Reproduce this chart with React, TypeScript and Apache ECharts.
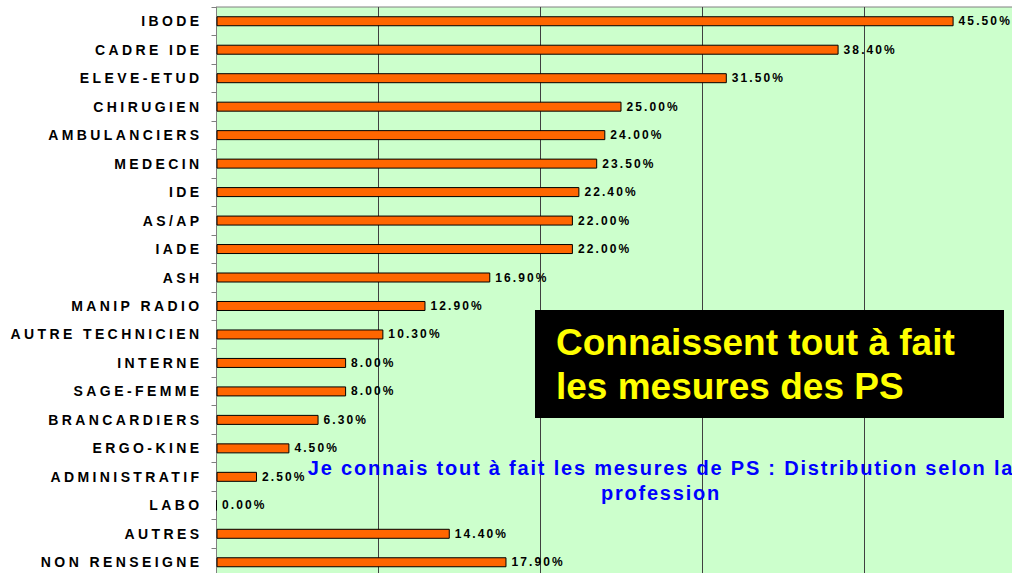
import React, { useEffect, useRef } from "react";
import * as echarts from "echarts";

const categories = [
  "IBODE",
  "CADRE IDE",
  "ELEVE-ETUD",
  "CHIRUGIEN",
  "AMBULANCIERS",
  "MEDECIN",
  "IDE",
  "AS/AP",
  "IADE",
  "ASH",
  "MANIP RADIO",
  "AUTRE TECHNICIEN",
  "INTERNE",
  "SAGE-FEMME",
  "BRANCARDIERS",
  "ERGO-KINE",
  "ADMINISTRATIF",
  "LABO",
  "AUTRES",
  "NON RENSEIGNE",
];

const values = [
  45.5, 38.4, 31.5, 25.0, 24.0, 23.5, 22.4, 22.0, 22.0, 16.9, 12.9, 10.3, 8.0,
  8.0, 6.3, 4.5, 2.5, 0.0, 14.4, 17.9,
];

const boxTitle = "Connaissent tout à fait\nles mesures des PS";
const chartTitle =
  "Je connais tout à fait les mesures de PS : Distribution selon la\nprofession";

const FONT = "'Liberation Sans', Arial, sans-serif";

export default function App() {
  const ref = useRef<HTMLDivElement>(null);

  useEffect(() => {
    document.body.style.margin = "0";
    document.body.style.overflow = "hidden";
    document.documentElement.style.overflow = "hidden";
    const chart = echarts.init(ref.current!, null, { renderer: "svg" });
    chart.setOption({
      animation: false,
      backgroundColor: "#ffffff",
      grid: {
        left: 216.5,
        top: 7,
        width: 810,
        height: 569.5,
        show: true,
        backgroundColor: "#CCFFCC",
        borderColor: "#808080",
        borderWidth: 1,
      },
      xAxis: {
        type: "value",
        min: 0,
        max: 50,
        interval: 10,
        axisLabel: { show: false },
        axisLine: { show: false },
        axisTick: { show: false },
        splitLine: { show: true, lineStyle: { color: "#404040", width: 1 } },
      },
      yAxis: {
        type: "category",
        data: categories,
        inverse: true,
        axisLine: { show: true, lineStyle: { color: "#808080", width: 1 } },
        axisTick: { show: true, length: 5, lineStyle: { color: "#808080" } },
        axisLabel: {
          interval: 0,
          margin: 14,
          fontSize: 14,
          fontWeight: "bold",
          fontFamily: FONT,
          color: "#000000",
        },
        splitLine: { show: false },
      },
      series: [
        {
          type: "bar",
          data: values,
          barWidth: 10,
          itemStyle: { color: "#FF6600", borderColor: "#000000", borderWidth: 1 },
          label: {
            show: true,
            position: "right",
            distance: 5,
            fontSize: 12,
            fontWeight: "bold",
            fontFamily: FONT,
            color: "#000000",
            formatter: (p: any) => `${Number(p.value).toFixed(2)}%`,
          },
        },
      ],
      graphic: [
        {
          type: "rect",
          shape: { x: 535, y: 310, width: 469, height: 108 },
          style: { fill: "#000000" },
          z: 100,
        },
        {
          type: "text",
          x: 556,
          y: 320.2,
          z: 101,
          style: {
            text: boxTitle,
            fill: "#FFFF00",
            fontSize: 37,
            fontWeight: "bold",
            fontFamily: FONT,
            lineHeight: 44,
            textAlign: "left",
            textVerticalAlign: "top",
          },
        },
        {
          type: "text",
          x: 661,
          y: 455.5,
          z: 101,
          style: {
            text: chartTitle,
            fill: "#0000FF",
            fontSize: 20,
            fontWeight: "bold",
            fontFamily: FONT,
            lineHeight: 25,
            textAlign: "center",
            textVerticalAlign: "top",
          },
        },
      ],
    });
    return () => chart.dispose();
  }, []);

  return (
    <>
      <style>{`
        #chart text[style*="14px"]{letter-spacing:3.4px;}
        #chart text[style*="12px"]{letter-spacing:2.1px;}
        #chart text[style*="20px"]{letter-spacing:1.8px;}
      `}</style>
      <div
        id="chart"
        ref={ref}
        style={{ position: "absolute", left: 0, top: 0, width: 1040, height: 585 }}
      />
    </>
  );
}
